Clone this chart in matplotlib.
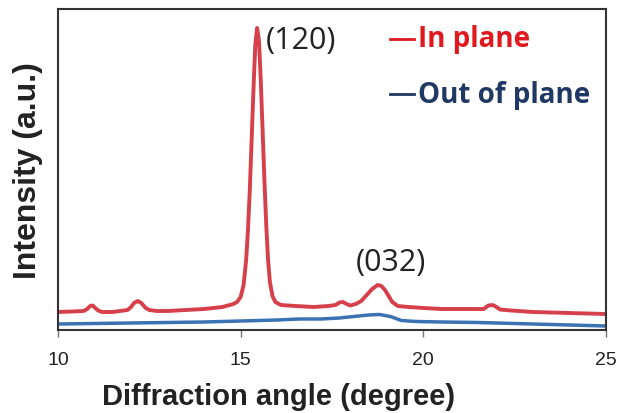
import matplotlib.pyplot as plt

# Valores (intensidade em unidades arbitrárias)
angle_in = [10.0, 10.4, 10.7, 10.8, 10.88, 10.95, 11.02, 11.1, 11.2, 11.5,
            11.9, 12.0, 12.08, 12.18, 12.28, 12.4, 12.5, 12.7, 13.0, 13.5,
            14.0, 14.5, 14.8, 14.9, 15.0, 15.08, 15.15, 15.2, 15.25, 15.3,
            15.35, 15.4, 15.45, 15.5, 15.55, 15.6, 15.65, 15.7, 15.75, 15.8,
            15.87, 15.95, 16.1, 16.5, 17.0, 17.4, 17.6, 17.7, 17.8, 17.9,
            18.0, 18.15, 18.3, 18.45, 18.6, 18.75, 18.85, 18.95, 19.05, 19.15,
            19.3, 19.6, 20.0, 20.5, 21.0, 21.5, 21.65, 21.78, 21.9, 22.0,
            22.1, 22.4, 23.0, 24.0, 25.0]
in_plane = [18, 18.5, 19, 21, 24, 24.5, 22, 19.5, 18, 18,
            20, 23, 27, 29, 27, 22, 20, 19, 19, 20,
            21, 23, 26, 28, 33, 45, 70, 100, 140, 190,
            240, 285, 302, 290, 250, 200, 150, 105, 70, 48,
            34, 28, 25, 24, 23, 24, 25, 27.5, 28, 26,
            24.5, 26, 29, 35, 41, 45, 44, 40, 34, 28,
            24, 23, 22, 21, 21, 21, 21, 24.5, 25, 23,
            20.5, 19.5, 18, 17, 16]

angle_out = [10.0, 12.0, 14.0, 15.0, 16.0, 16.6, 17.2, 17.7, 18.1, 18.5,
             18.8, 19.1, 19.4, 19.8, 20.5, 21.5, 22.5, 23.5, 24.5, 25.0]
out_plane = [6, 7, 8, 9, 10, 11, 11, 12, 13.5, 15,
             15.5, 13.5, 9.5, 8.5, 8, 7.5, 6.5, 5.5, 4.5, 4]

xticks = [10, 15, 20, 25]

fig = plt.figure(figsize=(6.19, 4.14), dpi=100)
ax = fig.add_axes([58 / 619, 1 - 331 / 414, 548 / 619, 321 / 414])

ax.plot(angle_out, out_plane, color='#3a72b4', lw=2.5)
ax.plot(angle_in, in_plane, color='#d6404b', lw=2.8)

ax.set_xlim(10, 25)
ax.set_ylim(0, 321)
ax.set_xticks(xticks)
ax.set_xticklabels([str(t) for t in xticks], fontsize=14, family='Liberation Sans', color='#222222')
ax.set_yticks([])
ax.tick_params(axis='x', direction='out', length=5, width=1, color='#777777', pad=10)

for s in ax.spines.values():
    s.set_color('#333333')
    s.set_linewidth(1.5)

ax.set_xlabel('Diffraction angle (degree)', fontsize=21, fontweight='bold',
              family='Liberation Sans', color='#222222')
ax.xaxis.set_label_coords(0.403, -0.163)
ax.set_ylabel('Intensity (a.u.)', fontsize=23, fontweight='bold',
              family='Liberation Sans', color='#222222', labelpad=11)

# Índices dos picos
ax.text(15.7, 290, '(120)', fontsize=22, family='Open Sans', color='#222222', va='center')
ax.text(19.1, 68, '(032)', fontsize=22, family='Open Sans', color='#222222', ha='center', va='center')

# Legenda feita à mão
leg = [('In plane', '#e0191f'), ('Out of plane', '#1f3864')]
for i, (lbl, cor) in enumerate(leg):
    y = 291 - i * 55
    ax.plot([19.1, 19.75], [y, y], color=cor, lw=2)
    ax.text(19.85, y, lbl, fontsize=20, fontweight='bold', family='Open Sans',
            color=cor, va='center')

plt.savefig('out.png', dpi=100)
